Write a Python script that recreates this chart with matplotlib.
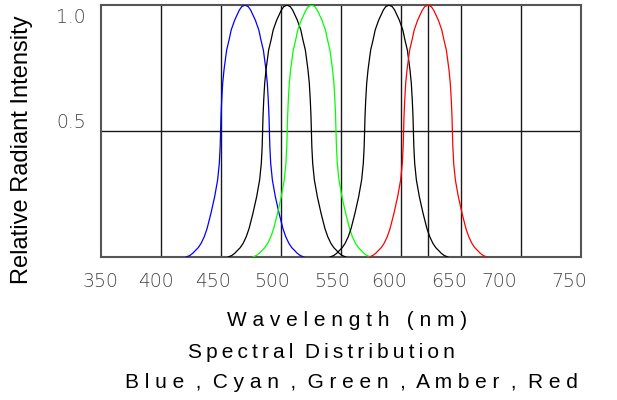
import numpy as np
import matplotlib.pyplot as plt

# LED spectra: peak wavelength (nm) and line colour
names = ["Blue", "Cyan", "Green", "Amber", "Red"]
peaks = [470, 505, 525.5, 590, 622.5]
colors = ["#0000ff", "#000000", "#00ff00", "#000000", "#ff0000"]

# half of the emission profile, read off the red and blue curves
# (distance from the peak in nm, relative intensity); curves are symmetric
offset = [0, 2.8, 4.7, 8.6, 11.5, 13.3, 15.3, 16.4, 17.5, 18.6, 19.4, 20.0,
          20.3, 20.7, 21.4, 22.8, 25.3, 28.4, 31.6, 34.0, 36.6, 39.0, 41.7,
          43.5, 46.0, 49.0]
level = [1.0, 0.993, 0.980, 0.940, 0.901, 0.861, 0.821, 0.782, 0.742, 0.689,
         0.623, 0.557, 0.504, 0.438, 0.372, 0.306, 0.239, 0.173, 0.113, 0.080,
         0.054, 0.037, 0.024, 0.015, 0.006, 0.0]

grid_x = [400, 450, 500, 550, 600, 622.5, 650, 700]
xtick_pos = [350, 396, 443, 492.5, 542.5, 590, 640, 682, 740]
xtick_text = ["350", "400", "450", "500", "550", "600", "650", "700", "750"]
ytick_pos = [0.96, 0.54]
ytick_text = ["1.0", "0.5"]

body_font = ["Liberation Sans", "DejaVu Sans"]


def spaced(words, gap):
    # letter-spaced caption text
    return "  ".join(gap.join(w) for w in words.split(" "))


fig = plt.figure(figsize=(6.17, 4), dpi=100)
ax = fig.add_axes([101 / 617, 1 - 257 / 400, 480 / 617, 252 / 400])

off = np.array(offset)
lev = np.array(level)
prof_x = np.concatenate([-off[::-1], off[1:]])
prof_y = np.concatenate([lev[::-1], lev[1:]])

for name, pk, c in zip(names, peaks, colors):
    ax.plot(pk + prof_x, prof_y, color=c, lw=0.9, label=name, zorder=3)

ax.set_xlim(350, 750)
ax.set_ylim(0, 1.0)

ax.set_xticks(grid_x, minor=True)
ax.set_yticks([0.5], minor=True)
ax.grid(which="minor", color="#1a1a1a", lw=1.0)
ax.set_xticks(xtick_pos, xtick_text)
ax.set_yticks(ytick_pos, ytick_text)
ax.tick_params(which="both", length=0)
ax.tick_params(axis="x", pad=11)
ax.tick_params(axis="y", pad=11)
for lab in ax.get_xticklabels() + ax.get_yticklabels():
    lab.set_fontsize(13.5)
    lab.set_family("DejaVu Sans")
    lab.set_fontweight(200)
    lab.set_color("#444444")

for sp in ax.spines.values():
    sp.set_color("#555555")
    sp.set_linewidth(1.5)

fig.text(22 / 617, 1 - 150 / 400, "Relative Radiant Intensity", rotation=90,
         ha="center", va="center", fontsize=17, family=body_font)
fig.text(347 / 617, 1 - 320 / 400, "W a v e l e n g t h   ( n m )",
         ha="center", va="center", fontsize=15, family=body_font)
fig.text(321 / 617, 1 - 352 / 400, spaced("Spectral Distribution", "\u2009"),
         ha="center", va="center", fontsize=15, family=body_font)
fig.text(351 / 617, 1 - 383 / 400,
         "B l u e  ,  C y a n  ,  G r e e n  ,  A m b e r  ,  R e d",
         ha="center", va="center", fontsize=15, family=body_font)

fig.savefig("out.png", dpi=100)
